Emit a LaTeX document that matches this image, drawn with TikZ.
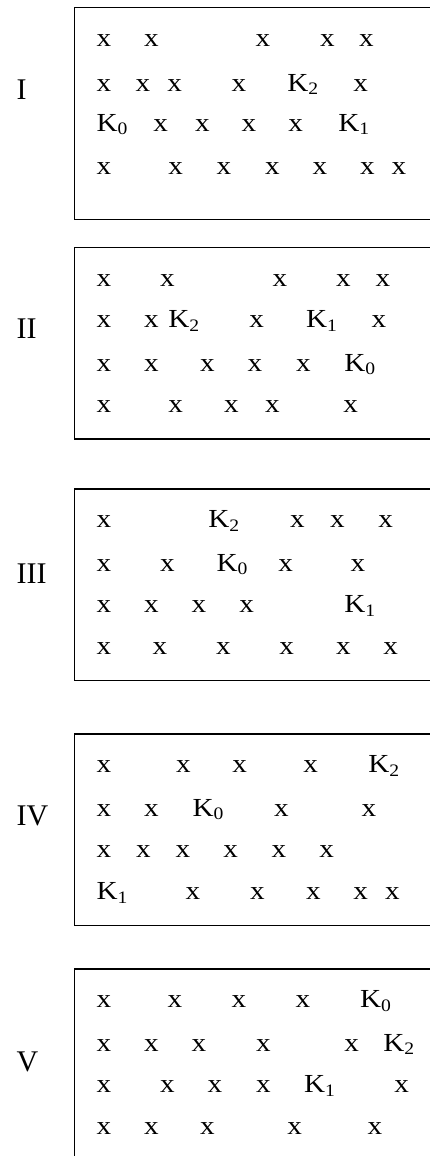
\documentclass[tikz,border=0pt]{standalone}
\usepackage{fontspec}
\setmainfont{Liberation Serif}
\newcommand\glyphfont{\fontsize{26}{26}\selectfont}
\newcommand\subfont{\fontsize{17.5}{17.5}\selectfont}
\newcommand\numfont{\fontsize{30}{30}\selectfont}
\newcommand\Kidx[1]{K\raisebox{-3.5pt}{\subfont #1}}
\newcommand\Kzero{\Kidx{0}}
\newcommand\Kone{\Kidx{1}}
\newcommand\Ktwo{\Kidx{2}}
% one row of marks: #1 name prefix, #2 baseline, #3 list of left-edge/label
\newcommand\markrow[3]{%
  \foreach \px/\lbl [count=\c] in {#3}
    \node[glyph] (#1-\c) at (\px,#2) {\lbl};%
}
\begin{document}
\begin{tikzpicture}[x=1pt,y=-1pt,
  glyph/.style={anchor=base west, inner sep=0pt, outer sep=0pt,
                font=\glyphfont, xscale=1.12},
  numeral/.style={anchor=base west, inner sep=0pt, outer sep=0pt, font=\numfont},
  panel/.style={draw=black, line width=1.3pt, anchor=north west,
                minimum width=420pt, inner sep=0pt}]
\useasboundingbox (0,0) rectangle (430,1156);
\clip (0,0) rectangle (430,1156);

% panels (right side runs off the page; the last one also runs off the bottom)
\node[panel, minimum height=212pt] (p1) at (73.5,7) {};
\node[panel, minimum height=191.6pt] (p2) at (73.5,246.7) {};
\node[panel, minimum height=191.7pt] (p3) at (73.5,488.3) {};
\node[panel, minimum height=191.7pt] (p4) at (73.5,733.3) {};
\node[panel, minimum height=240pt] (p5) at (73.5,968.3) {};

% panel numerals
\node[numeral] (n1) at (16.7,99.3) {I};
\node[numeral] (n2) at (16.7,338.3) {II};
\node[numeral] (n3) at (16.7,583.3) {III};
\node[numeral] (n4) at (16.7,825) {IV};
\node[numeral] (n5) at (16.7,1071.7) {V};

% panel I
\markrow{a1}{47}{96.7/x,144/x,255.7/x,320/x,359/x}
\markrow{a2}{91}{96.7/x,135.7/x,167.3/x,231.7/x,287.3/\Ktwo,353.3/x}
\markrow{a3}{131.2}{96.7/\Kzero,153.3/x,195/x,241.7/x,288.3/x,338.3/\Kone}
\markrow{a4}{174}{96.7/x,168.3/x,216.7/x,265/x,312.7/x,360/x,391.7/x}

% panel II
\markrow{b1}{286.2}{96.7/x,160/x,272.7/x,336/x,375.7/x}
\markrow{b2}{327.8}{96.7/x,144/x,168.3/\Ktwo,249.3/x,306/\Kone,371.7/x}
\markrow{b3}{371.2}{96.7/x,144/x,200/x,247.7/x,296/x,344.3/\Kzero}
\markrow{b4}{412.8}{96.7/x,168.3/x,224/x,265/x,343.3/x}

% panel III
\markrow{c1}{527.8}{96.7/x,208.3/\Ktwo,290/x,330/x,378.3/x}
\markrow{c2}{571.2}{96.7/x,160/x,216.7/\Kzero,278.3/x,350.7/x}
\markrow{c3}{612.8}{96.7/x,144/x,191.7/x,239.3/x,344.3/\Kone}
\markrow{c4}{654.5}{96.7/x,152.7/x,216/x,279.3/x,336/x,383.3/x}

% panel IV
\markrow{d1}{772.8}{96.7/x,176/x,232.3/x,303.3/x,368.3/\Ktwo}
\markrow{d2}{816.2}{96.7/x,144/x,192.7/\Kzero,274/x,361.7/x}
\markrow{d3}{857.8}{96.7/x,136/x,175.7/x,223.3/x,271.7/x,319.3/x}
\markrow{d4}{899.5}{96.7/\Kone,185.7/x,250/x,306/x,353.3/x,385/x}

% panel V
\markrow{e1}{1007.8}{96.7/x,167.7/x,231.7/x,295.7/x,360/\Kzero}
\markrow{e2}{1051.2}{96.7/x,144/x,191.7/x,256/x,344.3/x,383.3/\Ktwo}
\markrow{e3}{1092.8}{96.7/x,160/x,207.7/x,256/x,304/\Kone,394.3/x}
\markrow{e4}{1134.5}{96.7/x,144/x,200/x,287.3/x,367.7/x}
\end{tikzpicture}
\end{document}
